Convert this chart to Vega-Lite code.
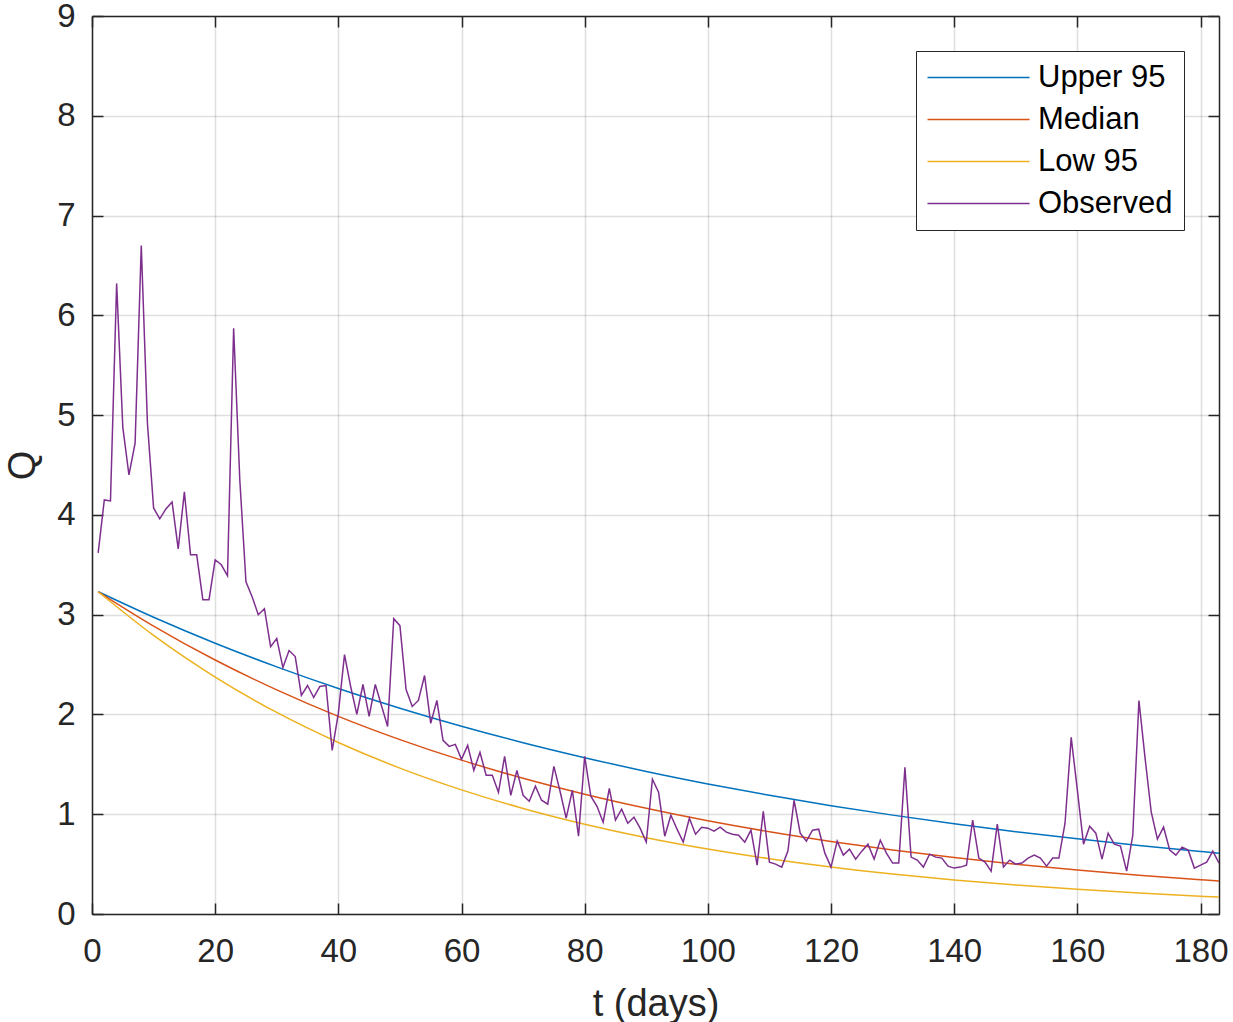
{
"$schema": "https://vega.github.io/schema/vega-lite/v6.json",
"width": 1127, "height": 898,
"autosize": {"type": "none"},
"padding": {"left": 92, "top": 16, "right": 14, "bottom": 108},
"background": "white",
"config": {"view": {"stroke": null}, "font": "Liberation Sans"},
"data": {"values": [
{"s":"Upper 95","t":1,"Q":3.23},{"s":"Upper 95","t":10,"Q":2.974},{"s":"Upper 95","t":20,"Q":2.714},{"s":"Upper 95","t":30,"Q":2.477},{"s":"Upper 95","t":40,"Q":2.26},{"s":"Upper 95","t":50,"Q":2.062},{"s":"Upper 95","t":60,"Q":1.882},{"s":"Upper 95","t":70,"Q":1.717},{"s":"Upper 95","t":80,"Q":1.567},{"s":"Upper 95","t":90,"Q":1.429},{"s":"Upper 95","t":100,"Q":1.304},{"s":"Upper 95","t":110,"Q":1.19},{"s":"Upper 95","t":120,"Q":1.086},{"s":"Upper 95","t":130,"Q":0.991},{"s":"Upper 95","t":140,"Q":0.904},{"s":"Upper 95","t":150,"Q":0.825},{"s":"Upper 95","t":160,"Q":0.753},{"s":"Upper 95","t":170,"Q":0.687},{"s":"Upper 95","t":180,"Q":0.627},{"s":"Upper 95","t":183,"Q":0.61},
{"s":"Median","t":1,"Q":3.23},{"s":"Median","t":10,"Q":2.886},{"s":"Median","t":20,"Q":2.546},{"s":"Median","t":30,"Q":2.246},{"s":"Median","t":40,"Q":1.981},{"s":"Median","t":50,"Q":1.748},{"s":"Median","t":60,"Q":1.542},{"s":"Median","t":70,"Q":1.36},{"s":"Median","t":80,"Q":1.2},{"s":"Median","t":90,"Q":1.059},{"s":"Median","t":100,"Q":0.934},{"s":"Median","t":110,"Q":0.824},{"s":"Median","t":120,"Q":0.727},{"s":"Median","t":130,"Q":0.641},{"s":"Median","t":140,"Q":0.566},{"s":"Median","t":150,"Q":0.499},{"s":"Median","t":160,"Q":0.441},{"s":"Median","t":170,"Q":0.389},{"s":"Median","t":180,"Q":0.343},{"s":"Median","t":183,"Q":0.33},
{"s":"Low 95","t":1,"Q":3.23},{"s":"Low 95","t":10,"Q":2.792},{"s":"Low 95","t":20,"Q":2.375},{"s":"Low 95","t":30,"Q":2.02},{"s":"Low 95","t":40,"Q":1.719},{"s":"Low 95","t":50,"Q":1.462},{"s":"Low 95","t":60,"Q":1.244},{"s":"Low 95","t":70,"Q":1.058},{"s":"Low 95","t":80,"Q":0.9},{"s":"Low 95","t":90,"Q":0.765},{"s":"Low 95","t":100,"Q":0.651},{"s":"Low 95","t":110,"Q":0.554},{"s":"Low 95","t":120,"Q":0.471},{"s":"Low 95","t":130,"Q":0.401},{"s":"Low 95","t":140,"Q":0.341},{"s":"Low 95","t":150,"Q":0.29},{"s":"Low 95","t":160,"Q":0.247},{"s":"Low 95","t":170,"Q":0.21},{"s":"Low 95","t":180,"Q":0.178},{"s":"Low 95","t":183,"Q":0.17},
{"s":"Observed","t":1,"Q":3.62},{"s":"Observed","t":2,"Q":4.15},{"s":"Observed","t":3,"Q":4.14},{"s":"Observed","t":4,"Q":6.32},{"s":"Observed","t":5,"Q":4.88},{"s":"Observed","t":6,"Q":4.40},{"s":"Observed","t":7,"Q":4.72},{"s":"Observed","t":8,"Q":6.70},{"s":"Observed","t":9,"Q":4.92},{"s":"Observed","t":10,"Q":4.07},
{"s":"Observed","t":11,"Q":3.96},{"s":"Observed","t":12,"Q":4.06},{"s":"Observed","t":13,"Q":4.13},{"s":"Observed","t":14,"Q":3.66},{"s":"Observed","t":15,"Q":4.23},{"s":"Observed","t":16,"Q":3.60},{"s":"Observed","t":17,"Q":3.60},{"s":"Observed","t":18,"Q":3.15},{"s":"Observed","t":19,"Q":3.15},{"s":"Observed","t":20,"Q":3.55},
{"s":"Observed","t":21,"Q":3.50},{"s":"Observed","t":22,"Q":3.39},{"s":"Observed","t":23,"Q":5.87},{"s":"Observed","t":24,"Q":4.35},{"s":"Observed","t":25,"Q":3.33},{"s":"Observed","t":26,"Q":3.18},{"s":"Observed","t":27,"Q":3.00},{"s":"Observed","t":28,"Q":3.06},{"s":"Observed","t":29,"Q":2.68},{"s":"Observed","t":30,"Q":2.76},
{"s":"Observed","t":31,"Q":2.47},{"s":"Observed","t":32,"Q":2.64},{"s":"Observed","t":33,"Q":2.58},{"s":"Observed","t":34,"Q":2.19},{"s":"Observed","t":35,"Q":2.29},{"s":"Observed","t":36,"Q":2.17},{"s":"Observed","t":37,"Q":2.28},{"s":"Observed","t":38,"Q":2.29},{"s":"Observed","t":39,"Q":1.64},{"s":"Observed","t":40,"Q":2.01},
{"s":"Observed","t":41,"Q":2.60},{"s":"Observed","t":42,"Q":2.28},{"s":"Observed","t":43,"Q":2.00},{"s":"Observed","t":44,"Q":2.30},{"s":"Observed","t":45,"Q":1.98},{"s":"Observed","t":46,"Q":2.30},{"s":"Observed","t":47,"Q":2.09},{"s":"Observed","t":48,"Q":1.88},{"s":"Observed","t":49,"Q":2.96},{"s":"Observed","t":50,"Q":2.89},
{"s":"Observed","t":51,"Q":2.25},{"s":"Observed","t":52,"Q":2.08},{"s":"Observed","t":53,"Q":2.14},{"s":"Observed","t":54,"Q":2.39},{"s":"Observed","t":55,"Q":1.91},{"s":"Observed","t":56,"Q":2.14},{"s":"Observed","t":57,"Q":1.74},{"s":"Observed","t":58,"Q":1.68},{"s":"Observed","t":59,"Q":1.70},{"s":"Observed","t":60,"Q":1.55},
{"s":"Observed","t":61,"Q":1.69},{"s":"Observed","t":62,"Q":1.44},{"s":"Observed","t":63,"Q":1.62},{"s":"Observed","t":64,"Q":1.39},{"s":"Observed","t":65,"Q":1.39},{"s":"Observed","t":66,"Q":1.22},{"s":"Observed","t":67,"Q":1.58},{"s":"Observed","t":68,"Q":1.19},{"s":"Observed","t":69,"Q":1.44},{"s":"Observed","t":70,"Q":1.19},
{"s":"Observed","t":71,"Q":1.13},{"s":"Observed","t":72,"Q":1.28},{"s":"Observed","t":73,"Q":1.14},{"s":"Observed","t":74,"Q":1.10},{"s":"Observed","t":75,"Q":1.48},{"s":"Observed","t":76,"Q":1.23},{"s":"Observed","t":77,"Q":0.96},{"s":"Observed","t":78,"Q":1.24},{"s":"Observed","t":79,"Q":0.78},{"s":"Observed","t":80,"Q":1.58},
{"s":"Observed","t":81,"Q":1.18},{"s":"Observed","t":82,"Q":1.08},{"s":"Observed","t":83,"Q":0.92},{"s":"Observed","t":84,"Q":1.26},{"s":"Observed","t":85,"Q":0.94},{"s":"Observed","t":86,"Q":1.05},{"s":"Observed","t":87,"Q":0.91},{"s":"Observed","t":88,"Q":0.97},{"s":"Observed","t":89,"Q":0.86},{"s":"Observed","t":90,"Q":0.72},
{"s":"Observed","t":91,"Q":1.35},{"s":"Observed","t":92,"Q":1.22},{"s":"Observed","t":93,"Q":0.78},{"s":"Observed","t":94,"Q":0.99},{"s":"Observed","t":95,"Q":0.85},{"s":"Observed","t":96,"Q":0.72},{"s":"Observed","t":97,"Q":0.96},{"s":"Observed","t":98,"Q":0.80},{"s":"Observed","t":99,"Q":0.87},{"s":"Observed","t":100,"Q":0.86},
{"s":"Observed","t":101,"Q":0.83},{"s":"Observed","t":102,"Q":0.87},{"s":"Observed","t":103,"Q":0.82},{"s":"Observed","t":104,"Q":0.80},{"s":"Observed","t":105,"Q":0.79},{"s":"Observed","t":106,"Q":0.72},{"s":"Observed","t":107,"Q":0.84},{"s":"Observed","t":108,"Q":0.49},{"s":"Observed","t":109,"Q":1.03},{"s":"Observed","t":110,"Q":0.52},
{"s":"Observed","t":111,"Q":0.50},{"s":"Observed","t":112,"Q":0.47},{"s":"Observed","t":113,"Q":0.63},{"s":"Observed","t":114,"Q":1.14},{"s":"Observed","t":115,"Q":0.81},{"s":"Observed","t":116,"Q":0.73},{"s":"Observed","t":117,"Q":0.84},{"s":"Observed","t":118,"Q":0.85},{"s":"Observed","t":119,"Q":0.61},{"s":"Observed","t":120,"Q":0.47},
{"s":"Observed","t":121,"Q":0.73},{"s":"Observed","t":122,"Q":0.59},{"s":"Observed","t":123,"Q":0.65},{"s":"Observed","t":124,"Q":0.55},{"s":"Observed","t":125,"Q":0.63},{"s":"Observed","t":126,"Q":0.70},{"s":"Observed","t":127,"Q":0.55},{"s":"Observed","t":128,"Q":0.74},{"s":"Observed","t":129,"Q":0.61},{"s":"Observed","t":130,"Q":0.51},
{"s":"Observed","t":131,"Q":0.51},{"s":"Observed","t":132,"Q":1.47},{"s":"Observed","t":133,"Q":0.57},{"s":"Observed","t":134,"Q":0.54},{"s":"Observed","t":135,"Q":0.47},{"s":"Observed","t":136,"Q":0.60},{"s":"Observed","t":137,"Q":0.57},{"s":"Observed","t":138,"Q":0.56},{"s":"Observed","t":139,"Q":0.48},{"s":"Observed","t":140,"Q":0.46},
{"s":"Observed","t":141,"Q":0.47},{"s":"Observed","t":142,"Q":0.49},{"s":"Observed","t":143,"Q":0.94},{"s":"Observed","t":144,"Q":0.56},{"s":"Observed","t":145,"Q":0.52},{"s":"Observed","t":146,"Q":0.43},{"s":"Observed","t":147,"Q":0.90},{"s":"Observed","t":148,"Q":0.47},{"s":"Observed","t":149,"Q":0.54},{"s":"Observed","t":150,"Q":0.50},
{"s":"Observed","t":151,"Q":0.51},{"s":"Observed","t":152,"Q":0.56},{"s":"Observed","t":153,"Q":0.59},{"s":"Observed","t":154,"Q":0.56},{"s":"Observed","t":155,"Q":0.48},{"s":"Observed","t":156,"Q":0.56},{"s":"Observed","t":157,"Q":0.56},{"s":"Observed","t":158,"Q":0.91},{"s":"Observed","t":159,"Q":1.77},{"s":"Observed","t":160,"Q":1.24},
{"s":"Observed","t":161,"Q":0.70},{"s":"Observed","t":162,"Q":0.88},{"s":"Observed","t":163,"Q":0.81},{"s":"Observed","t":164,"Q":0.55},{"s":"Observed","t":165,"Q":0.81},{"s":"Observed","t":166,"Q":0.70},{"s":"Observed","t":167,"Q":0.68},{"s":"Observed","t":168,"Q":0.43},{"s":"Observed","t":169,"Q":0.79},{"s":"Observed","t":170,"Q":2.14},
{"s":"Observed","t":171,"Q":1.56},{"s":"Observed","t":172,"Q":1.02},{"s":"Observed","t":173,"Q":0.75},{"s":"Observed","t":174,"Q":0.87},{"s":"Observed","t":175,"Q":0.64},{"s":"Observed","t":176,"Q":0.59},{"s":"Observed","t":177,"Q":0.67},{"s":"Observed","t":178,"Q":0.64},{"s":"Observed","t":179,"Q":0.46},{"s":"Observed","t":180,"Q":0.49},
{"s":"Observed","t":181,"Q":0.52},{"s":"Observed","t":182,"Q":0.63},{"s":"Observed","t":183,"Q":0.51}
]},
"encoding": {
  "color": {"field": "s", "type": "nominal",
    "scale": {"domain": ["Upper 95","Median","Low 95","Observed"], "range": ["#0072BD","#D95319","#EDB120","#7E2F8E"]},
    "legend": {"title": null, "orient": "none", "legendX": 824, "legendY": 35, "symbolType": "M-2.35,0H13.64", "symbolSize": 163, "symbolStrokeWidth": 1.5, "symbolFillColor": "transparent", "labelFontSize": 31, "labelColor": "#000000", "labelOffset": 80, "padding": 11, "strokeColor": "#262626", "fillColor": "white", "rowPadding": 10, "labelLimit": 400}}
},
"layer": [
  {"transform": [{"filter": "datum.s !== 'Observed'"}],
   "mark": {"type": "line", "interpolate": "monotone", "strokeWidth": 1.5, "clip": true},
   "encoding": {
     "x": {"field": "t", "type": "quantitative", "scale": {"domain": [0,183], "nice": false, "zero": false},
       "axis": {"orient": "bottom", "values": [0,20,40,60,80,100,120,140,160,180], "title": "t (days)", "titleFontSize": 38, "titleFontWeight": "normal", "titleColor": "#262626", "titlePadding": 17,
         "labelFontSize": 33, "labelColor": "#262626", "labelPadding": 32, "labelFlush": false, "labelOverlap": false,
         "tickSize": -11, "tickColor": "#262626", "tickWidth": 1.5, "domainColor": "#262626", "domainWidth": 1.5,
         "grid": true, "gridColor": "#262626", "gridOpacity": 0.15, "gridWidth": 1.5}},
     "y": {"field": "Q", "type": "quantitative", "scale": {"domain": [0,9], "nice": false},
       "axis": {"orient": "left", "values": [0,1,2,3,4,5,6,7,8,9], "title": "Q", "titleFontSize": 38, "titleFontWeight": "normal", "titleColor": "#262626", "titlePadding": 14,
         "labelFontSize": 33, "labelColor": "#262626", "labelPadding": 28, "labelOverlap": false,
         "tickSize": -11, "tickColor": "#262626", "tickWidth": 1.5, "domainColor": "#262626", "domainWidth": 1.5,
         "grid": true, "gridColor": "#262626", "gridOpacity": 0.15, "gridWidth": 1.5}}
   }},
  {"transform": [{"filter": "datum.s === 'Observed'"}],
   "mark": {"type": "line", "strokeWidth": 1.5, "clip": true},
   "encoding": {
     "x": {"field": "t", "type": "quantitative", "scale": {"domain": [0,183], "nice": false, "zero": false},
       "axis": {"orient": "top", "values": [0,20,40,60,80,100,120,140,160,180], "title": null, "labels": false,
         "tickSize": -11, "tickColor": "#262626", "tickWidth": 1.5, "domainColor": "#262626", "domainWidth": 1.5, "grid": false}},
     "y": {"field": "Q", "type": "quantitative", "scale": {"domain": [0,9], "nice": false},
       "axis": {"orient": "right", "values": [0,1,2,3,4,5,6,7,8,9], "title": null, "labels": false,
         "tickSize": -11, "tickColor": "#262626", "tickWidth": 1.5, "domainColor": "#262626", "domainWidth": 1.5, "grid": false}}
   }}
],
"resolve": {"axis": {"x": "independent", "y": "independent"}}
}
